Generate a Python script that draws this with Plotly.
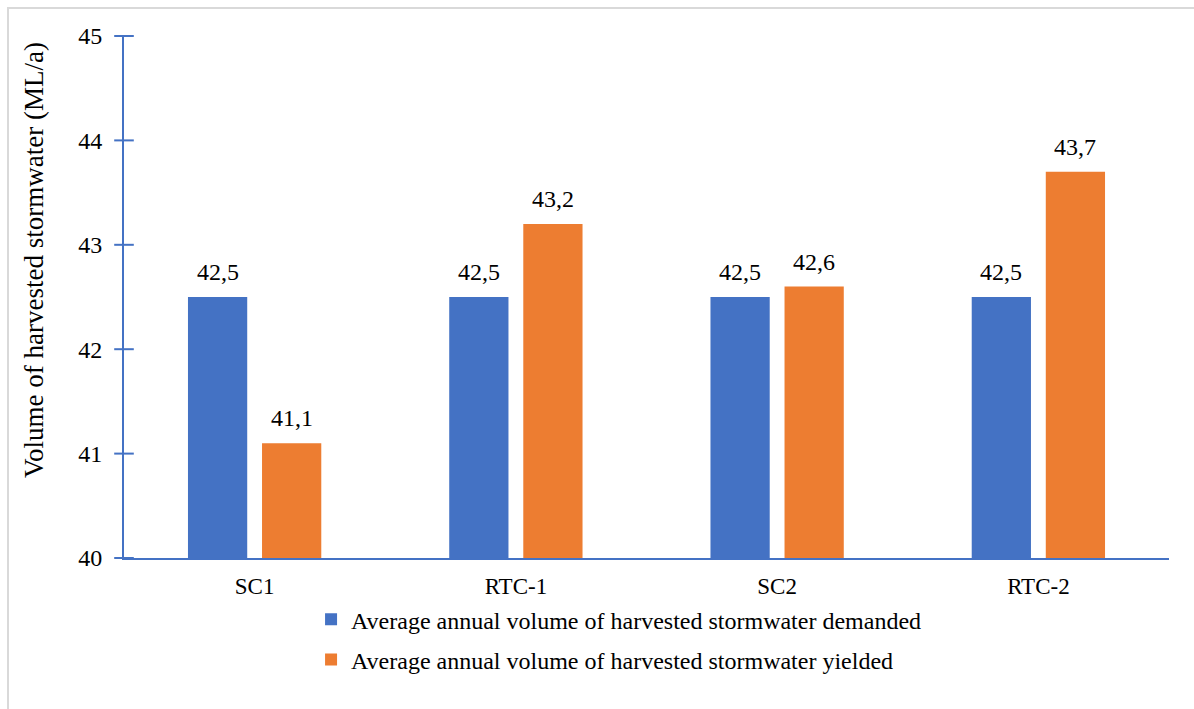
import plotly.graph_objects as go

# Scenario names and annual volumes (ML/a)
categories = ["SC1", "RTC-1", "SC2", "RTC-2"]
demanded = [42.5, 42.5, 42.5, 42.5]
yielded = [41.1, 43.2, 42.6, 43.7]
series_names = [
    "Average annual volume of harvested stormwater demanded",
    "Average annual volume of harvested stormwater yielded",
]
y_ticks = [40, 41, 42, 43, 44, 45]
y_title = "Volume of harvested stormwater (ML/a)"

BLUE = "#4472C4"
ORANGE = "#ED7D31"
AXIS = "#4472C4"
FONT = "Liberation Serif"


def fmt(v):
    # decimal comma labels, e.g. 42,5
    return f"{v:.1f}".replace(".", ",")


fig = go.Figure()
for vals, name, color, grp in [
    (demanded, series_names[0], BLUE, "a"),
    (yielded, series_names[1], ORANGE, "b"),
]:
    fig.add_trace(go.Bar(
        x=categories, y=vals, name=name, marker_color=color,
        marker_line_width=0, legendgroup=grp,
    ))

# tick marks crossing the value axis, drawn as short horizontal line markers
fig.add_trace(go.Scatter(
    x=[0] * len(y_ticks), y=y_ticks, xaxis="x2", mode="markers",
    marker=dict(symbol="line-ew", size=14, line=dict(color=AXIS, width=2)),
    showlegend=False, hoverinfo="skip", cliponaxis=False,
))

# value labels above each bar
for vals, shift in [(demanded, -37), (yielded, 37)]:
    for c, v in zip(categories, vals):
        fig.add_annotation(
            x=c, y=v, text=fmt(v), showarrow=False, xshift=shift,
            yshift=10, yanchor="bottom",
            font=dict(family=FONT, size=24, color="#000000"),
        )

# value axis title
fig.add_annotation(
    xref="paper", yref="paper", x=-0.0861, y=0.571,
    xanchor="center", yanchor="middle", textangle=-90, showarrow=False,
    text=y_title, font=dict(family=FONT, size=27, color="#000000"),
)

# thin frame around the chart area
fig.add_shape(
    type="rect", xref="paper", yref="paper",
    x0=-0.111, x1=1.2, y0=-0.5, y1=1.0536,
    line=dict(color="#d9d9d9", width=2), fillcolor="rgba(0,0,0,0)",
    layer="below",
)

fig.update_layout(
    width=1194, height=709,
    margin=dict(l=124, r=25, t=36, b=151),
    plot_bgcolor="white", paper_bgcolor="white",
    barmode="group", bargap=0.433, bargroupgap=0.2,
    font=dict(family=FONT, size=24, color="#000000"),
    showlegend=True,
    legend=dict(
        orientation="v", x=0.179, xanchor="left", y=-0.075, yanchor="top",
        traceorder="grouped", tracegroupgap=6,
        font=dict(family=FONT, size=24, color="#000000"),
        itemclick=False, bgcolor="rgba(0,0,0,0)",
    ),
    xaxis=dict(
        showline=True, linecolor=AXIS, linewidth=2,
        ticks="", showgrid=False, zeroline=False, ticklabelstandoff=6,
        tickfont=dict(family=FONT, size=23),
    ),
    xaxis2=dict(
        overlaying="x", range=[0, 1], visible=False,
    ),
    yaxis=dict(
        range=[40, 45], tickmode="array", tickvals=y_ticks,
        showline=True, linecolor=AXIS, linewidth=2,
        ticks="", ticklabelstandoff=15,
        showgrid=False, zeroline=False,
        tickfont=dict(family=FONT, size=24),
    ),
)

fig.write_html("out.html")
